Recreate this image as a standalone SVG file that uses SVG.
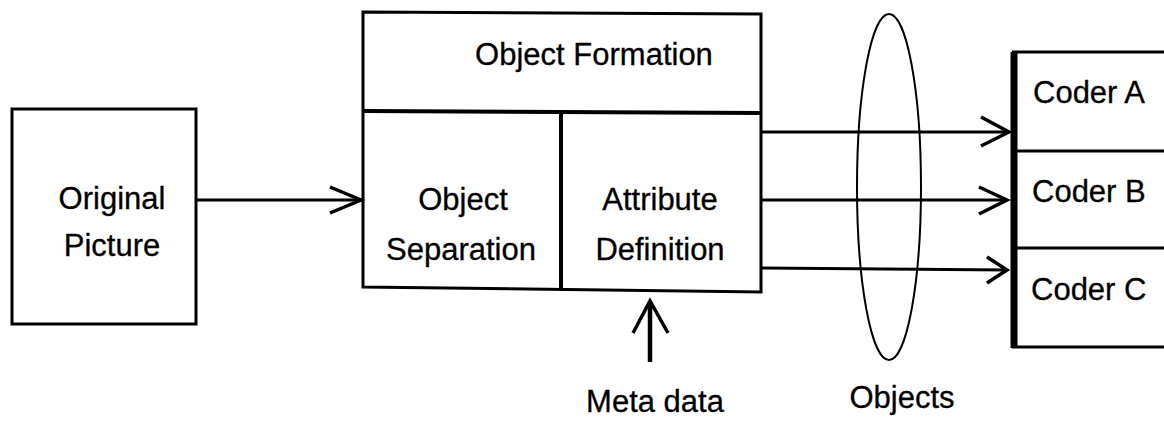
<svg xmlns="http://www.w3.org/2000/svg" width="1164" height="423" viewBox="0 0 1164 423">
  <style>
    .box { fill: none; stroke: #000; stroke-width: 3; }
    .thick { fill: none; stroke: #000; stroke-width: 4; }
    .line { fill: none; stroke: #000; stroke-width: 3; }
    .thin { fill: none; stroke: #000; stroke-width: 2; }
    .head { fill: none; stroke: #000; stroke-width: 3.5; stroke-linejoin: miter; }
    text { font-family: "Liberation Sans", Arial, Helvetica, sans-serif; font-size: 31px; fill: #000; stroke: #000; stroke-width: 0.3; }
    .c { text-anchor: middle; }
  </style>
  <rect x="0" y="0" width="1164" height="423" fill="#fff"/>

  <g id="original-picture">
    <rect class="box" x="12" y="109" width="184" height="215"/>
    <text class="c" x="112" y="209">Original</text>
    <text class="c" x="112" y="256">Picture</text>
  </g>

  <g id="object-formation">
    <path class="box" d="M363 12 L761 14 L761 292 L363 287 Z"/>
    <line class="thick" x1="363" y1="111" x2="761" y2="113"/>
    <text class="c" x="594" y="65">Object Formation</text>
  </g>

  <g id="object-separation">
    <line class="thick" x1="561" y1="112" x2="561" y2="289"/>
    <text class="c" x="463" y="210">Object</text>
    <text class="c" x="461" y="260">Separation</text>
  </g>

  <g id="attribute-definition">
    <text class="c" x="660" y="210">Attribute</text>
    <text class="c" x="660" y="260">Definition</text>
  </g>

  <g id="objects">
    <ellipse class="thin" cx="889" cy="187" rx="32" ry="173"/>
    <text class="c" x="902" y="408">Objects</text>
  </g>

  <g id="coders">
    <path class="line" d="M1164 52 L1012 52 M1012 151 L1164 151 M1012 248 L1164 248 M1012 347 L1164 347"/>
    <line stroke="#000" stroke-width="7" x1="1014" y1="52" x2="1014" y2="348"/>
    <text x="1033" y="103">Coder A</text>
    <text x="1032" y="202">Coder B</text>
    <text x="1031" y="300">Coder C</text>
  </g>

  <g id="meta-data">
    <text class="c" x="655" y="412">Meta data</text>
  </g>

  <g id="connectors">
    <!-- picture to separation -->
    <line class="line" x1="196" y1="200" x2="361" y2="200"/>
    <polyline class="head" points="330,187 361,200 330,213"/>
    <!-- objects to coders -->
    <line class="line" x1="761" y1="132" x2="1009" y2="132"/>
    <polyline class="head" points="981,117 1009,132 981,146"/>
    <line class="line" x1="761" y1="200" x2="1007" y2="200"/>
    <polyline class="head" points="979,187 1007,200 979,214"/>
    <line class="line" x1="761" y1="268" x2="1007" y2="270"/>
    <polyline class="head" points="987,257 1007,270 987,283"/>
    <!-- meta data into attribute definition -->
    <line stroke="#000" stroke-width="4.5" x1="650" y1="362" x2="650" y2="302"/>
    <polyline class="head" stroke-width="4.5" points="633,333 650,301 668,333"/>
  </g>
</svg>
